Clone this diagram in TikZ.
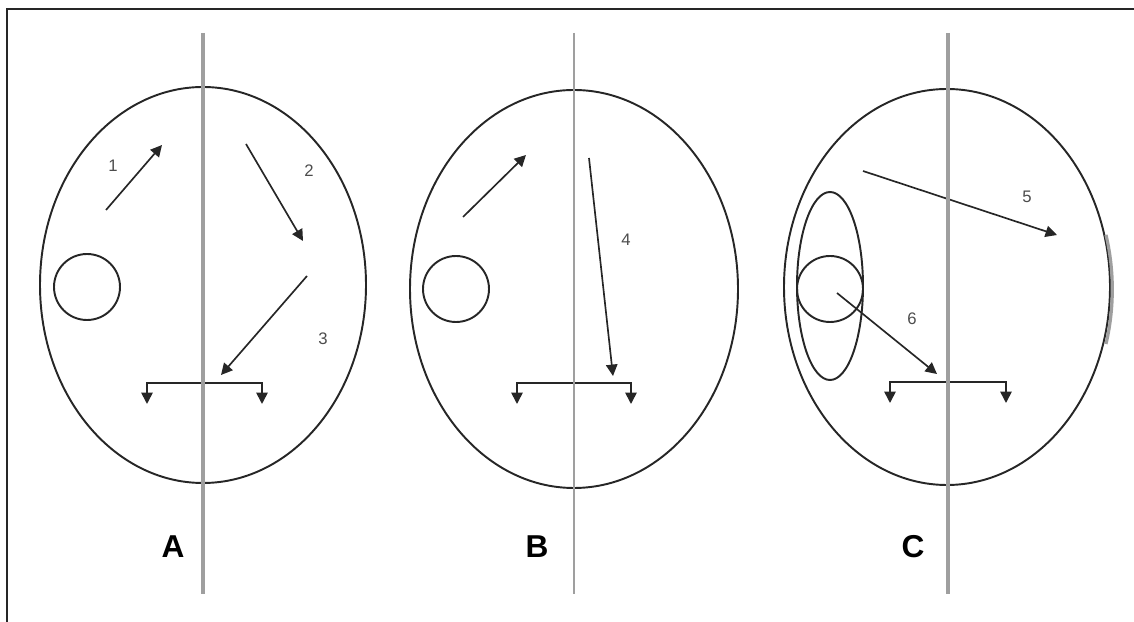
\documentclass[tikz,border=0pt]{standalone}
\usepackage{fontspec}
\setmainfont{Liberation Sans}
\usetikzlibrary{arrows.meta}

\begin{document}
\begin{tikzpicture}[
    axis/.style={draw=gray!75, line width=1.9pt},
    head/.style={draw=black!85, line width=1.1pt},
    mv/.style={draw=black!85, line width=0.95pt, -{Triangle[length=6.5pt, width=6.5pt]}},
    num/.style={text=black!70, inner sep=1pt, font=\fontsize{9.5}{11}\selectfont},
    panel/.style={inner sep=1pt, font=\fontsize{18}{21}\selectfont\bfseries}
  ]

    \useasboundingbox (0,0) rectangle (22.68, 12.44);
    \draw[black!85, line width=0.8pt] (0.14, 0) -- (0.14, 12.26) -- (22.68, 12.26);

    % panel A
    \draw[head] ( 4.06, 6.74 ) ellipse [x radius=3.26, y radius=3.96];
    \draw[head] ( 1.74, 6.70 ) circle [radius=0.66];

    \coordinate (a1s) at ( 2.12, 8.24 );
    \coordinate (a1e) at ( 3.24, 9.54 );
    \coordinate (a2s) at ( 4.92, 9.56 );
    \coordinate (a2e) at ( 6.06, 7.62 );
    \coordinate (a3s) at ( 6.14, 6.92 );
    \coordinate (a3e) at ( 4.42, 4.94 );
    \draw[mv] (a1s) -- (a1e);
    \draw[mv] (a2s) -- (a2e);
    \draw[mv] (a3s) -- (a3e);

    \node (n1) at ( 2.26, 9.12 ) [num] {1};
    \node (n2) at ( 6.18, 9.02 ) [num] {2};
    \node (n3) at ( 6.46, 5.66 ) [num] {3};

    \coordinate (tA) at ( 4.09, 4.78 );
    \draw[mv] (tA) -- ++(-1.15, 0 ) -- ++(0, -0.42 );
    \draw[mv] (tA) -- ++( 1.15, 0 ) -- ++(0, -0.42 );

    \coordinate (axA0) at ( 4.06, 11.78 );
    \coordinate (axA1) at ( 4.06, 0.56 );
    \draw[axis] (axA0) -- (axA1);
    \node (lblA) at ( 3.46, 1.50 ) [panel] {A};

    % panel B
    \draw[head] ( 11.48, 6.66 ) ellipse [x radius=3.28, y radius=3.98];
    \draw[head] ( 9.12, 6.66 ) circle [radius=0.66];

    \coordinate (b1s) at ( 9.26, 8.10 );
    \coordinate (b1e) at ( 10.52, 9.34 );
    \coordinate (b4s) at ( 11.78, 9.28 );
    \coordinate (b4e) at ( 12.26, 4.92 );
    \draw[mv] (b1s) -- (b1e);
    \draw[mv] (b4s) -- (b4e);

    \node (n4) at ( 12.52, 7.64 ) [num] {4};

    \coordinate (tB) at ( 11.48, 4.78 );
    \draw[mv] (tB) -- ++(-1.14, 0 ) -- ++(0, -0.42 );
    \draw[mv] (tB) -- ++( 1.14, 0 ) -- ++(0, -0.42 );

    \coordinate (axB0) at ( 11.48, 11.78 );
    \coordinate (axB1) at ( 11.48, 0.56 );
    \draw[axis, line width=1.3pt] (axB0) -- (axB1);
    \node (lblB) at ( 10.74, 1.50 ) [panel] {B};

    % panel C
    \draw[head] ( 18.94, 6.70 ) ellipse [x radius=3.26, y radius=3.96];
    \draw[gray!75, line width=1.8pt] ( 22.12, 5.56 ) arc [start angle=-16, end angle=16, x radius=3.26, y radius=3.96];
    \draw[head] ( 16.60, 6.72 ) ellipse [x radius=0.66, y radius=1.88];
    \draw[head] ( 16.60, 6.66 ) circle [radius=0.66];

    \coordinate (c5s) at ( 17.26, 9.02 );
    \coordinate (c5e) at ( 21.14, 7.74 );
    \coordinate (c6s) at ( 16.74, 6.58 );
    \coordinate (c6e) at ( 18.74, 4.96 );
    \draw[mv] (c5s) -- (c5e);
    \draw[mv] (c6s) -- (c6e);

    \node (n5) at ( 20.54, 8.50 ) [num] {5};
    \node (n6) at ( 18.24, 6.06 ) [num] {6};

    \coordinate (tC) at ( 18.96, 4.80 );
    \draw[mv] (tC) -- ++(-1.16, 0 ) -- ++(0, -0.42 );
    \draw[mv] (tC) -- ++( 1.16, 0 ) -- ++(0, -0.42 );

    \coordinate (axC0) at ( 18.96, 11.78 );
    \coordinate (axC1) at ( 18.96, 0.56 );
    \draw[axis] (axC0) -- (axC1);
    \node (lblC) at ( 18.26, 1.50 ) [panel] {C};

\end{tikzpicture}
\end{document}
